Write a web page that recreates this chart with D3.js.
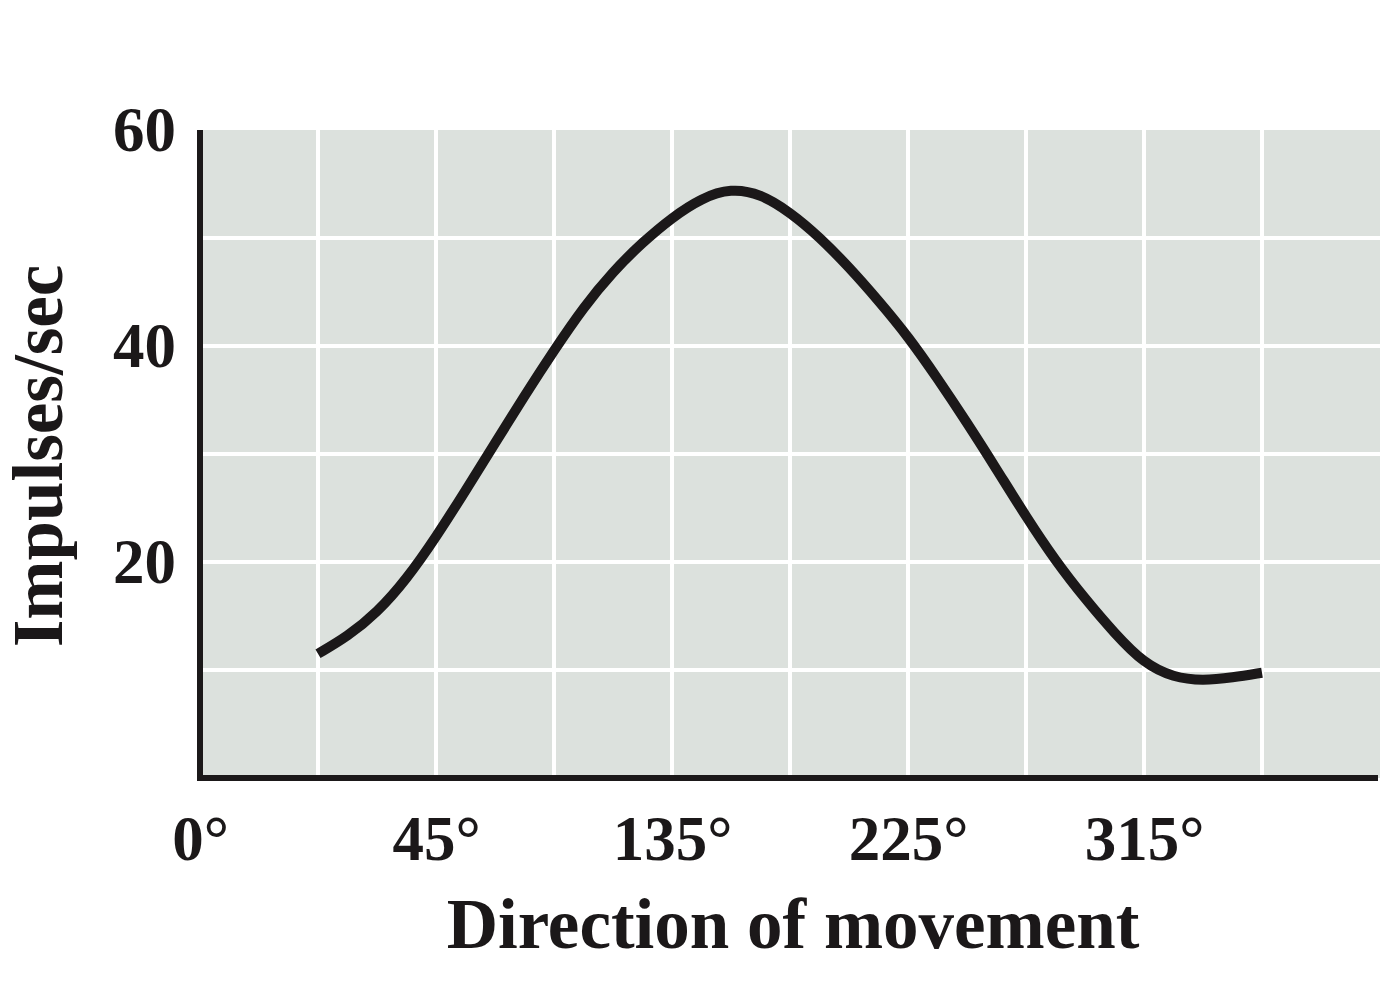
<!DOCTYPE html>
<html><head><meta charset="utf-8">
<script src="https://cdn.jsdelivr.net/npm/d3@7"></script>
<style>body{margin:0;background:#fff}</style>
</head><body><svg id="c" width="1400" height="985"></svg>
<script>
// x positions are grid-cell units (10 cells across the plot)
const xGridLines = [1,2,3,4,5,6,7,8,9];
const xTickPositions = [0,2,4,6,8];
const xTickLabels = ["0°","45°","135°","225°","315°"];
const yTickValues = [20,40,60];
const yGridLines = [10,20,30,40,50];
const curveX = [1,1.25,1.5,1.75,2,2.25,2.5,2.75,3,3.25,3.5,3.75,4,4.25,4.5,4.75,5,
                5.25,5.5,5.75,6,6.25,6.5,6.75,7,7.25,7.5,7.75,8,8.25,8.5,8.75,9];
const curveY = [11.5,13.1,15.3,18.4,22.3,26.6,31.0,35.4,39.6,43.6,46.9,49.6,51.9,53.7,54.6,54.1,52.4,
                50.1,47.3,44.2,40.9,37.0,32.9,28.6,24.2,20.1,16.6,13.4,10.6,9.3,9.0,9.3,9.75];

const svg = d3.select("#c");
const x = d3.scaleLinear().domain([0,10]).range([200,1380]);
const y = d3.scaleLinear().domain([0,60]).range([778,130]);
const font = "'Liberation Serif','Times New Roman',serif";

svg.append("rect").attr("x",x(0)).attr("y",y(60))
  .attr("width",x(10)-x(0)).attr("height",y(0)-y(60)).attr("fill","#dce1dd");

svg.append("g").selectAll("line").data(xGridLines).join("line")
  .attr("x1",d=>x(d)).attr("x2",d=>x(d)).attr("y1",y(60)).attr("y2",y(0))
  .attr("stroke","#fff").attr("stroke-width",4);
svg.append("g").selectAll("line").data(yGridLines).join("line")
  .attr("x1",x(0)).attr("x2",x(10)).attr("y1",d=>y(d)).attr("y2",d=>y(d))
  .attr("stroke","#fff").attr("stroke-width",4);

const line = d3.line().x((d,i)=>x(curveX[i])).y(d=>y(d)).curve(d3.curveBasis);
svg.append("path").attr("d",line(curveY)).attr("fill","none")
  .attr("stroke","#1b1819").attr("stroke-width",10).attr("stroke-linecap","butt");

// axis lines
svg.append("line").attr("x1",x(0)).attr("x2",x(0)).attr("y1",y(60)).attr("y2",y(0)+3)
  .attr("stroke","#1b1819").attr("stroke-width",6);
svg.append("line").attr("x1",x(0)-3).attr("x2",x(10)-2).attr("y1",y(0)).attr("y2",y(0))
  .attr("stroke","#1b1819").attr("stroke-width",6);

const xAxis = d3.axisBottom(x).tickValues(xTickPositions)
  .tickFormat((d,i)=>xTickLabels[i]).tickSize(0);
const gx = svg.append("g").attr("transform",`translate(0,${y(0)})`).call(xAxis);
gx.select(".domain").remove();
gx.selectAll("text").attr("y",82).attr("dy",0)
  .style("font-family",font).style("font-weight","bold").style("font-size","63px").attr("fill","#1b1819");

const yAxis = d3.axisLeft(y).tickValues(yTickValues).tickSize(0).tickPadding(24);
const gy = svg.append("g").attr("transform",`translate(${x(0)},0)`).call(yAxis);
gy.select(".domain").remove();
gy.selectAll("text").attr("dy","0.33em")
  .style("font-family",font).style("font-weight","bold").style("font-size","63px").attr("fill","#1b1819");

svg.append("text").attr("x",793).attr("y",948).attr("text-anchor","middle")
  .style("font-family",font).style("font-weight","bold").style("font-size","71px").attr("fill","#1b1819")
  .text("Direction of movement");
svg.append("text").attr("transform","translate(62,456) rotate(-90)").attr("text-anchor","middle")
  .style("font-family",font).style("font-weight","bold").style("font-size","71px").attr("fill","#1b1819")
  .text("Impulses/sec");
</script></body></html>
